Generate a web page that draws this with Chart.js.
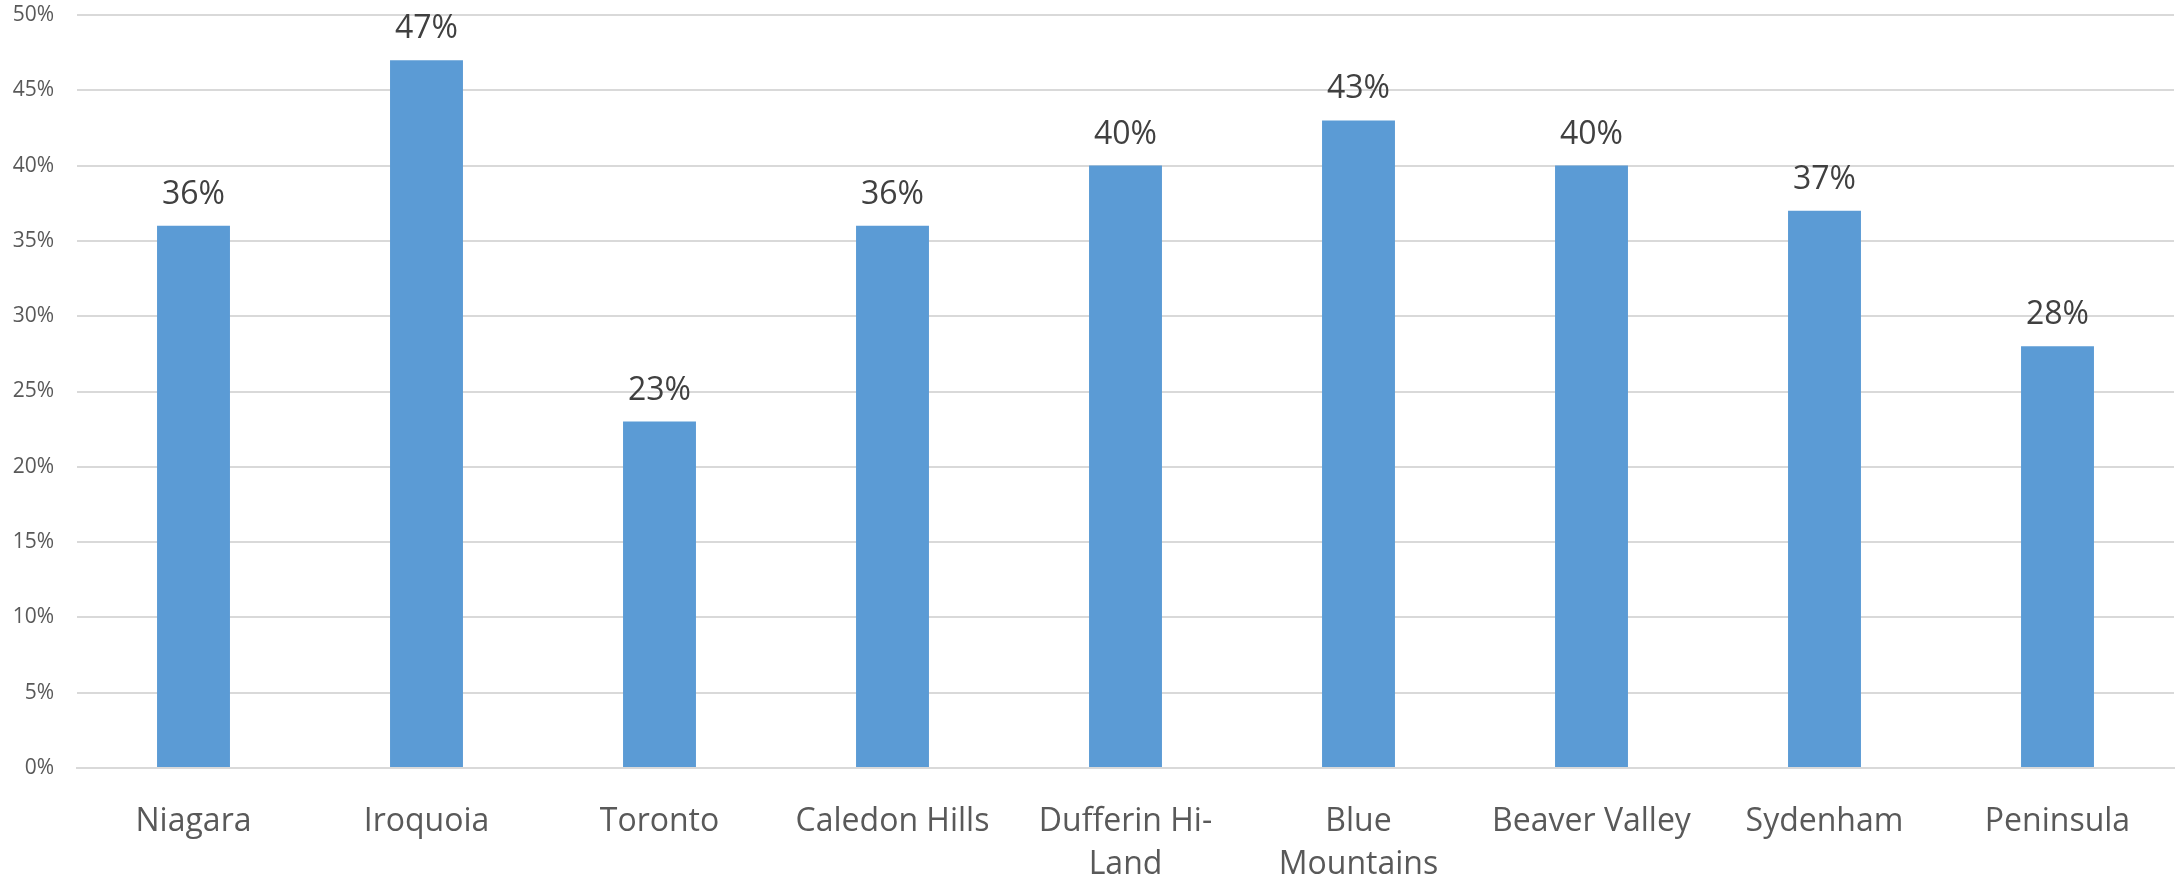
<!DOCTYPE html>
<html>
<head>
<meta charset="utf-8">
<script src="https://cdn.jsdelivr.net/npm/chart.js@4/dist/chart.umd.min.js"></script>
<style>
  html, body { margin: 0; padding: 0; background: #fff; }
  #wrap { width: 2181px; height: 879px; position: relative; }
</style>
</head>
<body>
<div id="wrap"><canvas id="chart"></canvas></div>
<script>
const categories = ['Niagara', 'Iroquoia', 'Toronto', 'Caledon Hills', ['Dufferin Hi-', 'Land'],
  ['Blue', 'Mountains'], 'Beaver Valley', 'Sydenham', 'Peninsula'];
const shares = [0.36, 0.47, 0.23, 0.36, 0.40, 0.43, 0.40, 0.37, 0.28];
const yTicks = [0, 0.05, 0.10, 0.15, 0.20, 0.25, 0.30, 0.35, 0.40, 0.45, 0.50];

const fontFamily = '"Open Sans", "Liberation Sans", sans-serif';

// draws the percentage above each bar
const barLabels = {
  id: 'barLabels',
  afterDatasetsDraw(chart) {
    const ctx = chart.ctx;
    const meta = chart.getDatasetMeta(0);
    ctx.save();
    ctx.font = '32px ' + fontFamily;
    ctx.fillStyle = '#404040';
    ctx.textAlign = 'center';
    ctx.textBaseline = 'alphabetic';
    meta.data.forEach((bar, i) => {
      ctx.fillText(Math.round(shares[i] * 100) + '%', bar.x, bar.y - 22);
    });
    ctx.restore();
  }
};

new Chart(document.getElementById('chart'), {
  type: 'bar',
  data: {
    labels: categories,
    datasets: [{
      data: shares,
      backgroundColor: '#5B9BD5',
      borderWidth: 0,
      categoryPercentage: 1,
      barPercentage: 0.313
    }]
  },
  options: {
    responsive: true,
    maintainAspectRatio: false,
    animation: false,
    layout: { padding: { top: 15, right: 7, left: 0, bottom: 0 } },
    plugins: {
      legend: { display: false },
      tooltip: { enabled: false }
    },
    scales: {
      x: {
        grid: { display: false },
        border: { color: '#D9D9D9', width: 2 },
        ticks: {
          color: '#595959',
          font: { family: fontFamily, size: 32, lineHeight: 1.35 },
          padding: 24,
          maxRotation: 0,
          autoSkip: false
        },
        afterFit(scale) { scale.height = 111; }
      },
      y: {
        min: 0,
        max: 0.5,
        afterBuildTicks(scale) { scale.ticks = yTicks.map(v => ({ value: v })); },
        grid: { color: '#D9D9D9', lineWidth: 2, drawTicks: false },
        border: { display: false },
        ticks: {
          color: '#595959',
          font: { family: fontFamily, size: 21 },
          padding: 23,
          callback: v => Math.round(v * 100) + '%'
        },
        afterFit(scale) {
          scale.width = 77;
          scale.paddingTop = 0;
          scale.paddingBottom = 0;
        }
      }
    }
  },
  plugins: [barLabels]
});
</script>
</body>
</html>
